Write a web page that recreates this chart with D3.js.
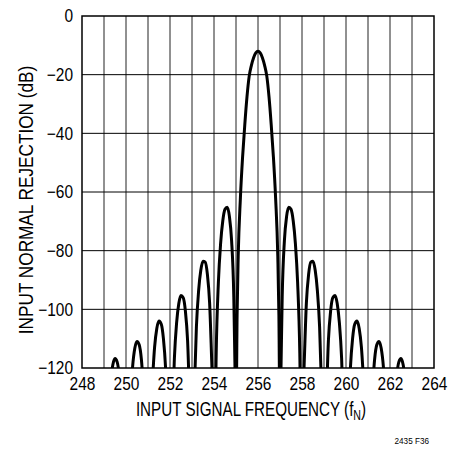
<!DOCTYPE html>
<html>
<head>
<meta charset="utf-8">
<script src="https://d3js.org/d3.v7.min.js"></script>
<style>
  body { margin: 0; background: #fff; }
  text { font-family: "Liberation Sans", Arial, sans-serif; fill: #000; }
</style>
</head>
<body>
<div id="chart"></div>
<script>
// input signal frequency (fN) and input normal rejection (dB)
// values below the axis are parked at -140 and clipped away
var freq = [
  249.0, 249.2, 249.3, 249.4, 249.5, 249.6, 249.7, 249.8,
  250.0, 250.1, 250.2, 250.3, 250.4, 250.5, 250.6, 250.7, 250.8, 250.9,
  251.0, 251.1, 251.2, 251.3, 251.4, 251.5, 251.6, 251.7, 251.8, 251.9,
  252.0, 252.1, 252.2, 252.3, 252.4, 252.5, 252.6, 252.7, 252.8, 252.9,
  253.0, 253.1, 253.2, 253.3, 253.4, 253.5, 253.6, 253.7, 253.8, 253.9,
  254.0, 254.05, 254.1, 254.2, 254.3, 254.4, 254.5, 254.6, 254.7, 254.8, 254.9, 254.95,
  255.0, 255.05, 255.1, 255.2, 255.3, 255.4, 255.5, 255.6, 255.7, 255.8, 255.9,
  256.0, 256.1, 256.2, 256.3, 256.4, 256.5, 256.6, 256.7, 256.8, 256.9, 256.95,
  257.0, 257.05, 257.1, 257.2, 257.3, 257.4, 257.5, 257.6, 257.7, 257.8, 257.9, 257.95,
  258.0, 258.1, 258.2, 258.3, 258.4, 258.5, 258.6, 258.7, 258.8, 258.9,
  259.0, 259.1, 259.2, 259.3, 259.4, 259.5, 259.6, 259.7, 259.8, 259.9,
  260.0, 260.1, 260.2, 260.3, 260.4, 260.5, 260.6, 260.7, 260.8, 260.9,
  261.0, 261.1, 261.2, 261.3, 261.4, 261.5, 261.6, 261.7, 261.8, 261.9,
  262.0, 262.2, 262.3, 262.4, 262.5, 262.6, 262.7, 262.8,
  263.0
];
var rejection = [
  -140, -136.9, -125.3, -119, -116.8, -118, -123.1, -133.7,
  -140, -140, -131.3, -119.6, -113.3, -111, -112.1, -117.1, -127.6, -140,
  -140, -140, -124.8, -112.9, -106.5, -104, -105, -109.9, -120.1, -140,
  -140, -139.9, -116.6, -104.6, -98, -95.3, -96, -100.6, -110.7, -131.9,
  -140, -129.6, -106, -93.7, -86.7, -83.6, -83.9, -88.1, -97.7, -118.4,
  -140, -139.5, -114.9, -90.7, -77.6, -69.8, -65.9, -65.2, -68.3, -76.6, -95.9, -118,
  -140, -102, -82, -62, -48, -37, -27.5, -20.5, -16.8, -14.2, -12.6,
  -12, -12.6, -14.2, -16.8, -20.5, -27.5, -37, -48, -62, -82, -102,
  -140, -118, -95.9, -76.6, -68.3, -65.2, -65.9, -69.8, -77.6, -90.7, -114.9, -139.5,
  -140, -118.4, -97.7, -88.1, -83.9, -83.6, -86.7, -93.7, -106, -129.6,
  -140, -131.9, -110.7, -100.6, -96, -95.3, -98, -104.6, -116.6, -139.9,
  -140, -140, -120.1, -109.9, -105, -104, -106.5, -112.9, -124.8, -140,
  -140, -140, -127.6, -117.1, -112.1, -111, -113.3, -119.6, -131.3, -140,
  -140, -133.7, -123.1, -118, -116.8, -119, -125.3, -136.9,
  -140
];

var xTicks = [248, 250, 252, 254, 256, 258, 260, 262, 264];
var yTicks = [0, -20, -40, -60, -80, -100, -120];

var width = 453, height = 449;
var margin = {top: 16, right: 19, bottom: 81, left: 82};
var narrow = 0.86; // condensed look for the labels

var svg = d3.select("#chart").append("svg")
    .attr("width", width)
    .attr("height", height);

var x = d3.scaleLinear().domain([248, 264]).range([margin.left, width - margin.right]);
var y = d3.scaleLinear().domain([-120, 0]).range([height - margin.bottom, margin.top]);

// grid
svg.append("g").selectAll("line")
    .data(d3.range(249, 264))
    .enter().append("line")
    .attr("x1", d => x(d)).attr("x2", d => x(d))
    .attr("y1", y(0)).attr("y2", y(-120))
    .attr("stroke", "#222")
    .attr("stroke-width", 1);

svg.append("g").selectAll("line")
    .data(yTicks.slice(1, -1))
    .enter().append("line")
    .attr("x1", x(248)).attr("x2", x(264))
    .attr("y1", d => y(d)).attr("y2", d => y(d))
    .attr("stroke", "#000")
    .attr("stroke-width", 1);

svg.append("rect")
    .attr("x", x(248)).attr("y", y(0))
    .attr("width", x(264) - x(248))
    .attr("height", y(-120) - y(0))
    .attr("fill", "none")
    .attr("stroke", "#000")
    .attr("stroke-width", 1.5);

// axes (labels only, the frame draws the lines)
var xAxis = svg.append("g")
    .attr("transform", `translate(0,${y(-120)})`)
    .call(d3.axisBottom(x).tickValues(xTicks).tickSize(0).tickPadding(9));
var yAxis = svg.append("g")
    .attr("transform", `translate(${x(248)},0)`)
    .call(d3.axisLeft(y).tickValues(yTicks).tickSize(0).tickPadding(9)
        .tickFormat(d => d < 0 ? "\u2212" + Math.abs(d) : d));
[xAxis, yAxis].forEach(function(a) {
    a.select(".domain").remove();
    a.selectAll("text").attr("font-size", "18px").attr("fill", "#000")
        .style("font-family", '"Liberation Sans", Arial, sans-serif')
        .attr("transform", `scale(${narrow},1)`);
});
yAxis.selectAll("text").attr("x", -9 / narrow);

// curve
svg.append("clipPath").attr("id", "plot-clip")
  .append("rect")
    .attr("x", x(248)).attr("y", y(0))
    .attr("width", x(264) - x(248))
    .attr("height", y(-120) - y(0));

var pts = freq.map((f, i) => [f, rejection[i]]);
var line = d3.line()
    .x(d => x(d[0]))
    .y(d => y(d[1]))
    .curve(d3.curveMonotoneX);

svg.append("path")
    .datum(pts)
    .attr("clip-path", "url(#plot-clip)")
    .attr("d", line)
    .attr("fill", "none")
    .attr("stroke", "#000")
    .attr("stroke-width", 3)
    .attr("stroke-linejoin", "round");

// titles
svg.append("text")
    .attr("transform", "translate(251,416) scale(0.76,1)")
    .attr("text-anchor", "middle")
    .attr("font-size", "20px")
    .html('INPUT SIGNAL FREQUENCY (f<tspan font-size="14px" dy="4">N</tspan><tspan dy="-4">)</tspan>');

svg.append("text")
    .attr("transform", "translate(33,200) rotate(-90) scale(0.86,1)")
    .attr("text-anchor", "middle")
    .attr("font-size", "20px")
    .text("INPUT NORMAL REJECTION (dB)");

svg.append("text")
    .attr("transform", "translate(429,444) scale(0.86,1)")
    .attr("text-anchor", "end")
    .attr("font-size", "9.5px")
    .text("2435 F36");
</script>
</body>
</html>
